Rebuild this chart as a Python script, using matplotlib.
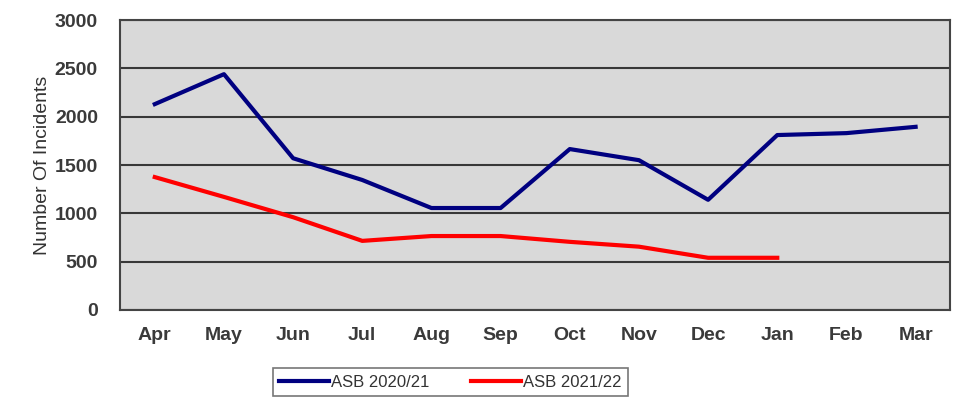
import matplotlib
matplotlib.use('Agg')
import matplotlib.pyplot as plt

months = ['Apr', 'May', 'Jun', 'Jul', 'Aug', 'Sep', 'Oct', 'Nov', 'Dec', 'Jan', 'Feb', 'Mar']
asb_2021 = [2130, 2440, 1570, 1345, 1055, 1055, 1665, 1550, 1140, 1810, 1830, 1895]
asb_2122 = [1375, 1170, 960, 715, 765, 765, 705, 655, 540, 540]

plt.rcParams['font.family'] = ['Liberation Sans', 'DejaVu Sans']

fig = plt.figure(figsize=(9.54, 4.01), dpi=100)
ax = fig.add_axes([0.126, 0.227, 0.87, 0.723])
ax.set_facecolor('#d9d9d9')

x = list(range(len(months)))
l1, = ax.plot(x, asb_2021, color='#000080', lw=3, label='ASB 2020/21', zorder=3)
l2, = ax.plot(x[:len(asb_2122)], asb_2122, color='#ff0000', lw=3, label='ASB 2021/22', zorder=3)

ax.set_xlim(-0.5, 11.5)
ax.set_ylim(0, 3000)
ax.set_yticks(range(0, 3001, 500))
ax.set_xticks(x)
ax.set_xticklabels(months)
ax.yaxis.grid(True, color='#383838', lw=1.5)
ax.set_axisbelow(True)
ax.tick_params(axis='y', length=0, labelsize=14, pad=16)
ax.tick_params(axis='x', length=0, labelsize=14, pad=12)
for lab in ax.get_xticklabels() + ax.get_yticklabels():
    lab.set_fontweight('bold')
    lab.set_color('#3a3a3a')
for s in ax.spines.values():
    s.set_color('#444444')
    s.set_linewidth(1.5)

ax.set_ylabel('Number Of Incidents', fontsize=14, color='#333333', labelpad=3)

leg = fig.legend(handles=[l1, l2], loc='center', bbox_to_anchor=(0.472, 0.047), ncol=2,
                 frameon=True, fancybox=False, edgecolor='#555555', fontsize=12,
                 handlelength=3, handletextpad=0.1, columnspacing=2.5, borderpad=0.4)
leg.get_frame().set_linewidth(1.2)
for t in leg.get_texts():
    t.set_color('#333333')

fig.savefig('out.png', dpi=100)
